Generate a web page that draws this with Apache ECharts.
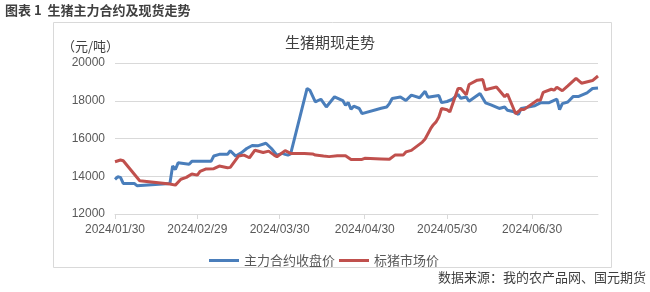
<!DOCTYPE html>
<html>
<head>
<meta charset="utf-8">
<script src="https://cdn.jsdelivr.net/npm/echarts@6/dist/echarts.min.js"></script>
<style>
html,body{margin:0;padding:0;background:#fff;}
#chart{width:650px;height:292px;}
</style>
</head>
<body>
<div id="chart"></div>
<script>
// ---- data ----
const startDate = '2024/01/30';
const endDate = '2024/07/24';
const tickLabels = ['2024/01/30','2024/02/29','2024/03/30','2024/04/30','2024/05/30','2024/06/30'];
const yTicks = [12000, 14000, 16000, 18000, 20000];

const mainDates = ['01/30','01/31','02/01','02/02','02/06','02/07','02/19','02/20','02/21','02/22','02/26','02/27',
  '03/05','03/06','03/08','03/11','03/12','03/14','03/16','03/18','03/20','03/22','03/25','03/27','03/29','03/31',
  '04/01','04/02','04/03','04/09','04/10','04/12','04/14','04/16','04/19','04/22','04/23','04/24','04/25','04/26','04/28','04/29',
  '05/06','05/08','05/09','05/10','05/13','05/15','05/17','05/20','05/22','05/23','05/27','05/28','05/30',
  '06/01','06/03','06/04','06/06','06/07','06/11','06/13','06/15','06/18','06/20','06/21','06/23','06/25','06/26','06/28',
  '07/01','07/03','07/06','07/09','07/10','07/11','07/13','07/15','07/17','07/20','07/22','07/24'];
const mainValues = [13835,13970,13940,13620,13620,13500,13620,14540,14360,14710,14640,14790,
  14790,15070,15160,15160,15350,15070,15240,15470,15630,15610,15750,15470,15120,15210,
  15160,15120,15190,18650,18560,17940,18080,17670,18210,18010,17760,17900,17550,17710,17590,17320,
  17600,17670,17850,18120,18200,18010,18300,18160,18500,18190,18280,17900,17960,
  18080,18340,18130,18200,17970,18380,17890,17780,17590,17670,17500,17430,17280,17590,17650,
  17740,17890,17890,18090,17530,17850,17930,18230,18230,18420,18650,18680];

const spotDates = ['01/30','02/01','02/02','02/08','02/19','02/21','02/23','02/25','02/27','02/29',
  '03/01','03/03','03/06','03/08','03/11','03/12','03/15','03/17','03/19','03/21','03/24','03/26','03/28','03/29',
  '04/01','04/03','04/08','04/11','04/12','04/15','04/17','04/20','04/23','04/25','04/29','04/30',
  '05/06','05/09','05/11','05/14','05/15','05/17','05/21','05/22','05/24','05/25','05/26','05/27','05/28','05/30','05/31',
  '06/03','06/04','06/06','06/07','06/10','06/12','06/13','06/17','06/20','06/21','06/24','06/26','06/27',
  '07/02','07/03','07/04','07/07','07/08','07/09','07/11','07/13','07/16','07/18','07/22','07/24'];
const spotValues = [14770,14860,14820,13760,13590,13530,13840,13940,14120,14060,
  14260,14380,14400,14540,14450,14470,15070,15120,14980,15380,15260,15330,15120,15030,
  15360,15210,15210,15180,15120,15070,15040,15090,15090,14890,14890,14950,
  14920,14900,15120,15120,15290,15370,15810,15970,16520,16730,16880,17140,17590,17520,17410,
  18650,18650,18310,18860,19090,19120,18580,18730,18210,18360,17310,17550,17530,
  18040,18030,18440,18610,18560,18720,18530,18790,19190,18930,19070,19310];

const seriesNames = ['主力合约收盘价', '标猪市场价'];

// ---- build category axis (calendar days) ----
function fmt(d){
  const m = String(d.getMonth()+1).padStart(2,'0');
  const dd = String(d.getDate()).padStart(2,'0');
  return d.getFullYear()+'/'+m+'/'+dd;
}
const days = [];
{
  const s = new Date(startDate), e = new Date(endDate);
  for (let d = new Date(s); d <= e; d.setDate(d.getDate()+1)) days.push(fmt(d));
}
function toSeries(dates, values){
  const map = {};
  dates.forEach((d,i)=>{ map['2024/'+d] = values[i]; });
  return days.map(d => (d in map) ? map[d] : null);
}
const mainData = toSeries(mainDates, mainValues);
const spotData = toSeries(spotDates, spotValues);
const showTick = (idx, val) => tickLabels.indexOf(val) >= 0;

const FONT = "'Noto Sans CJK SC', sans-serif";
const NUMFONT = "'Liberation Sans', Arial, sans-serif";
const chart = echarts.init(document.getElementById('chart'), null, {renderer:'canvas'});
chart.setOption({
  animation: false,
  backgroundColor: '#fff',
  textStyle: { fontFamily: FONT },
  grid: { left: 115, right: 52, top: 63, bottom: 78, containLabel: false },
  title: {
    text: '生猪期现走势', left: 280, top: 30,
    textStyle: { fontSize: 15, fontWeight: 'normal', color: '#404040', fontFamily: FONT }
  },
  legend: {
    left: 204, top: 249, itemWidth: 30, itemHeight: 3, itemGap: 4, icon: 'rect',
    textStyle: { fontSize: 13, color: '#595959', fontFamily: FONT },
    data: seriesNames
  },
  xAxis: {
    type: 'category', data: days, boundaryGap: false,
    axisLine: { lineStyle: { color: '#d9d9d9', width: 1 } },
    axisTick: { show: true, interval: showTick, length: 5, lineStyle: { color: '#d9d9d9' } },
    axisLabel: { interval: showTick, color: '#595959', fontSize: 12, margin: 10, fontFamily: NUMFONT },
    splitLine: { show: false }
  },
  yAxis: {
    type: 'value', min: yTicks[0], max: yTicks[yTicks.length-1], interval: 2000,
    axisLine: { show: false }, axisTick: { show: false },
    axisLabel: { color: '#595959', fontSize: 12, margin: 10, fontFamily: NUMFONT, formatter: v => String(v) },
    splitLine: { lineStyle: { color: '#d9d9d9', width: 1 } }
  },
  series: [
    { name: seriesNames[0], type: 'line', data: mainData, connectNulls: true, showSymbol: false, symbol: 'none',
      lineStyle: { color: '#4a7ebb', width: 3 }, itemStyle: { color: '#4a7ebb' }, z: 3 },
    { name: seriesNames[1], type: 'line', data: spotData, connectNulls: true, showSymbol: false, symbol: 'none',
      lineStyle: { color: '#c0504d', width: 3 }, itemStyle: { color: '#c0504d' }, z: 4 }
  ],
  graphic: [
    { type: 'rect', shape: { x: 53.5, y: 22.5, width: 558, height: 245 }, style: { fill: 'none', stroke: '#d9d9d9', lineWidth: 1 }, silent: true, z: -1 },
    { type: 'text', left: 5, top: 4, style: { text: '图表 1  生猪主力合约及现货走势', font: "bold 13px 'Noto Sans CJK SC'", fill: '#404040' } },
    { type: 'text', left: 62, top: 40, style: { text: '（元/吨）', font: "13px 'Noto Sans CJK SC'", fill: '#404040' } },
    { type: 'text', right: 4, top: 271, style: { text: '数据来源：我的农产品网、国元期货', font: "13px 'Noto Sans CJK SC'", fill: '#404040' } }
  ]
});
</script>
</body>
</html>
